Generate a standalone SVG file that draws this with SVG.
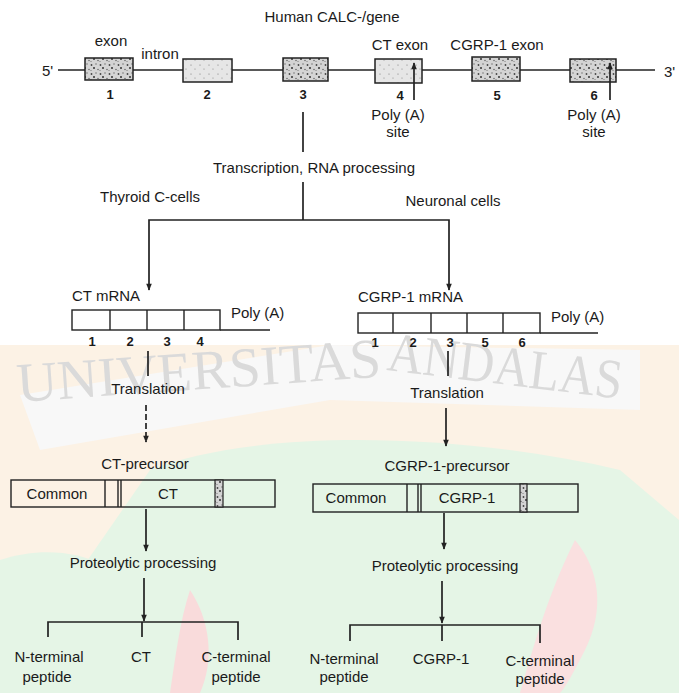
<svg xmlns="http://www.w3.org/2000/svg" width="679" height="693" viewBox="0 0 679 693">
<defs>
<pattern id="stip" width="9" height="9" patternUnits="userSpaceOnUse">
<rect width="9" height="9" fill="#d4d4d4"/>
<circle cx="1.5" cy="2" r="0.9" fill="#444"/>
<circle cx="6" cy="1" r="0.7" fill="#666"/>
<circle cx="4" cy="5" r="1" fill="#333"/>
<circle cx="8" cy="6.5" r="0.7" fill="#555"/>
<circle cx="1" cy="7.5" r="0.6" fill="#777"/>
</pattern>
<pattern id="stipL" width="9" height="9" patternUnits="userSpaceOnUse">
<rect width="9" height="9" fill="#e6e6e6"/>
<circle cx="2" cy="2" r="0.6" fill="#777"/>
<circle cx="6" cy="6" r="0.6" fill="#888"/>
</pattern>
<marker id="ah" viewBox="0 0 10 10" refX="9" refY="5" markerWidth="9" markerHeight="7" orient="auto-start-reverse" markerUnits="userSpaceOnUse">
<path d="M0,1 L10,5 L0,9 z" fill="#222"/>
</marker>
<style>
text{font-family:"Liberation Sans",Arial,sans-serif;fill:#1a1a1a;font-size:15px}
.m{text-anchor:middle}
.b{font-weight:bold;font-size:13px}
.ln{stroke:#222;stroke-width:1.7;fill:none}
.bx{stroke:#222;stroke-width:1.4;fill:none}
.ex{stroke:#222;stroke-width:1.5;fill:url(#stip)}
.wm{font-family:"Liberation Serif",serif;fill:#dadada;font-size:56px}
</style>
</defs>
<rect width="679" height="693" fill="#ffffff"/>
<g id="background" opacity="0.5">
<path d="M0,345 L679,345 L679,693 L0,693 z" fill="#fbe6cc"/>
<path d="M150,470 C250,430 450,430 620,470 L679,520 L679,693 L120,693 L60,600 z" fill="#cdeccf"/>
<path d="M0,560 C60,540 120,560 140,600 L150,693 L0,693 z" fill="#cdeccf"/>
<path d="M575,540 C600,570 605,610 585,650 C565,690 560,693 560,693 L520,693 C530,660 545,600 575,540 z" fill="#f6c2c2"/>
<path d="M190,590 C210,620 215,660 200,693 L170,693 C175,660 180,620 190,590 z" fill="#f4b9b9"/>
<path d="M20,395 L330,345 L640,350 L640,410 L330,400 L40,450 z" fill="#f2f2f2"/>
</g>
<g id="watermark">
<text class="wm" x="18" y="402" textLength="365" lengthAdjust="spacingAndGlyphs" transform="rotate(-4 18 402)">UNIVERSITAS</text>
<text class="wm" x="386" y="370" textLength="236" lengthAdjust="spacingAndGlyphs" transform="rotate(7 386 370)">ANDALAS</text>
</g>
<g id="gene">
<text class="m" x="332" y="22">Human CALC-/gene</text>
<text x="42" y="76">5'</text>
<text x="664" y="77">3'</text>
<line class="ln" x1="58" y1="70" x2="655" y2="70"/>
<text class="m" x="111" y="46">exon</text>
<text class="m" x="160" y="59">intron</text>
<text class="m" x="400" y="50">CT exon</text>
<text class="m" x="497" y="50">CGRP-1 exon</text>
</g>
<g id="exon1"><rect class="ex" x="85" y="58" width="48" height="22"/><text class="m b" x="110" y="99">1</text></g>
<g id="exon2"><rect class="ex" style="fill:url(#stipL)" x="183" y="59" width="49" height="23"/><text class="m b" x="207" y="99">2</text></g>
<g id="exon3"><rect class="ex" x="283" y="58" width="45" height="23"/><text class="m b" x="303" y="99">3</text></g>
<g id="exon4"><rect class="ex" style="fill:url(#stipL)" x="375" y="59" width="47" height="24"/><text class="m b" x="400" y="100">4</text>
<text class="m" x="398" y="120">Poly (A)</text><text class="m" x="398" y="137">site</text></g>
<g id="exon5"><rect class="ex" x="472" y="57" width="48" height="24"/><text class="m b" x="497" y="100">5</text></g>
<g id="exon6"><rect class="ex" x="570" y="59" width="46" height="23"/><text class="m b" x="594" y="100">6</text>
<text class="m" x="594" y="120">Poly (A)</text><text class="m" x="594" y="137">site</text></g>
<g id="transcription">
<text class="m" x="314" y="173">Transcription, RNA processing</text>
<text class="m" x="150" y="202">Thyroid C-cells</text>
<text class="m" x="453" y="206">Neuronal cells</text>
</g>
<g id="ct-mrna">
<text x="72" y="301">CT mRNA</text>
<rect class="bx" x="72" y="310" width="148" height="20"/>
<line class="bx" x1="110" y1="310" x2="110" y2="330"/>
<line class="bx" x1="147" y1="310" x2="147" y2="330"/>
<line class="bx" x1="184" y1="310" x2="184" y2="330"/>
<line class="bx" x1="220" y1="330" x2="270" y2="330"/>
<text x="231" y="318">Poly (A)</text>
<text class="m b" x="92" y="346">1</text><text class="m b" x="130" y="346">2</text><text class="m b" x="167" y="346">3</text><text class="m b" x="200" y="346">4</text>
</g>
<g id="cgrp-mrna">
<text x="358" y="302">CGRP-1 mRNA</text>
<rect class="bx" x="358" y="313" width="182" height="20"/>
<line class="bx" x1="393" y1="313" x2="393" y2="333"/>
<line class="bx" x1="431" y1="313" x2="431" y2="333"/>
<line class="bx" x1="467" y1="313" x2="467" y2="333"/>
<line class="bx" x1="503" y1="313" x2="503" y2="333"/>
<line class="bx" x1="540" y1="333" x2="598" y2="333"/>
<text x="551" y="322">Poly (A)</text>
<text class="m b" x="375" y="347">1</text><text class="m b" x="413" y="347">2</text><text class="m b" x="450" y="347">3</text><text class="m b" x="485" y="347">5</text><text class="m b" x="522" y="347">6</text>
</g>
<g id="ct-translation"><text class="m" x="148" y="394">Translation</text><text class="m" x="145" y="469">CT-precursor</text></g>
<g id="ct-precursor">
<rect class="bx" x="11" y="480" width="264" height="27"/>
<line class="bx" x1="105" y1="480" x2="105" y2="507"/>
<line class="bx" x1="118" y1="480" x2="118" y2="507"/>
<line class="bx" x1="121" y1="480" x2="121" y2="507"/>
<rect x="215" y="480" width="8" height="27" fill="url(#stip)" stroke="#222" stroke-width="1.2"/>
<text class="m" x="57" y="499">Common</text>
<text class="m" x="168" y="499">CT</text>
</g>
<g id="ct-proteolytic"><text class="m" x="143" y="568">Proteolytic processing</text></g>
<g id="ct-products">
<text class="m" x="49" y="662">N-terminal</text><text class="m" x="47" y="682">peptide</text>
<text class="m" x="141" y="662">CT</text>
<text class="m" x="236" y="662">C-terminal</text><text class="m" x="236" y="682">peptide</text>
</g>
<g id="cgrp-translation"><text class="m" x="447" y="398">Translation</text><text class="m" x="447" y="471">CGRP-1-precursor</text></g>
<g id="cgrp-precursor">
<rect class="bx" x="313" y="484" width="265" height="28"/>
<line class="bx" x1="407" y1="484" x2="407" y2="512"/>
<line class="bx" x1="418" y1="484" x2="418" y2="512"/>
<line class="bx" x1="421" y1="484" x2="421" y2="512"/>
<rect x="520" y="484" width="7" height="28" fill="url(#stip)" stroke="#222" stroke-width="1.2"/>
<text class="m" x="356" y="503">Common</text>
<text class="m" x="467" y="503">CGRP-1</text>
</g>
<g id="cgrp-proteolytic"><text class="m" x="445" y="571">Proteolytic processing</text></g>
<g id="cgrp-products">
<text class="m" x="344" y="664">N-terminal</text><text class="m" x="344" y="682">peptide</text>
<text class="m" x="441" y="664">CGRP-1</text>
<text class="m" x="540" y="666">C-terminal</text><text class="m" x="540" y="684">peptide</text>
</g>
<g id="connectors">
<line class="ln" x1="414" y1="100" x2="414" y2="63" marker-end="url(#ah)"/>
<line class="ln" x1="610" y1="100" x2="610" y2="63" marker-end="url(#ah)"/>
<line class="ln" x1="303" y1="112" x2="303" y2="152"/>
<line class="ln" x1="303" y1="182" x2="303" y2="220"/>
<polyline class="ln" points="149,290 149,220 449,220 449,290" marker-start="url(#ah)" marker-end="url(#ah)"/>
<line class="ln" x1="148" y1="351" x2="148" y2="376"/>
<line class="ln" x1="146" y1="405" x2="146" y2="442" stroke-dasharray="6,3" marker-end="url(#ah)"/>
<line class="ln" x1="146" y1="509" x2="146" y2="551" marker-end="url(#ah)"/>
<line class="ln" x1="144" y1="578" x2="144" y2="621" marker-end="url(#ah)"/>
<polyline class="ln" points="48,637 48,622 238,622 238,640"/>
<line class="ln" x1="142" y1="622" x2="142" y2="637"/>
<line class="ln" x1="448" y1="351" x2="448" y2="376"/>
<line class="ln" x1="446" y1="408" x2="446" y2="446" marker-end="url(#ah)"/>
<line class="ln" x1="444" y1="513" x2="444" y2="549" marker-end="url(#ah)"/>
<line class="ln" x1="442" y1="581" x2="442" y2="623" marker-end="url(#ah)"/>
<polyline class="ln" points="350,641 350,625 540,625 540,643"/>
<line class="ln" x1="442" y1="625" x2="442" y2="641"/>
</g>
</svg>
